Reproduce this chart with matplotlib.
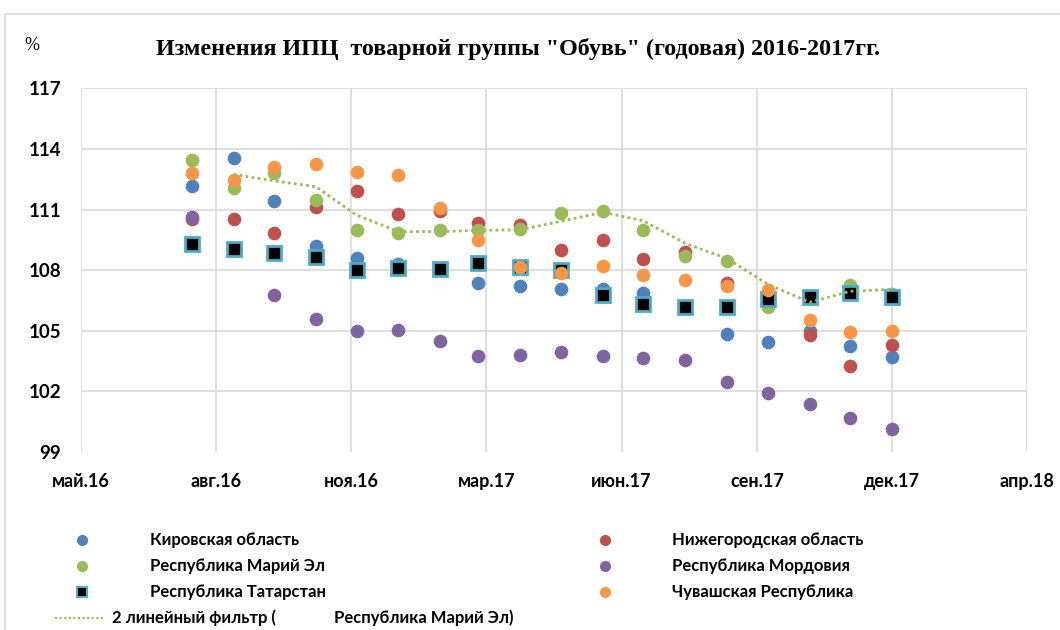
import matplotlib.pyplot as plt
import matplotlib.dates as mdates
import numpy as np
import pandas as pd
from datetime import datetime, timedelta

# monthly points (month ends), Jul 2016 - Dec 2017
months = pd.date_range('2016-07-31', periods=18, freq='ME')

nan = np.nan
kirov = [112.15, 113.53, 111.44, 109.21, 108.58, 108.3, nan, 107.35, 107.21,
         107.07, 107.05, 106.89, nan, 104.84, 104.43, 105.0, 104.24, 103.71]
nizhny = [110.55, 110.54, 109.82, 111.14, 111.91, 110.76, 110.92, 110.31, 110.23,
          108.99, 109.49, 108.53, 108.91, 107.34, nan, 104.81, 103.24, 104.32]
mari = [113.43, 112.05, 112.79, 111.47, 109.97, 109.85, 109.97, 109.97, 110.02,
        110.81, 110.92, 109.97, 108.69, 108.45, 106.17, 106.65, 107.26, 106.84]
mordovia = [110.64, nan, 106.77, 105.58, 104.99, 105.04, 104.51, 103.74, 103.79,
            103.96, 103.76, 103.66, 103.55, 102.44, 101.94, 101.36, 100.68, 100.13]
tatarstan = [109.3, 109.07, 108.83, 108.63, 108.03, 108.13, 108.07, 108.36, 108.17,
             108.0, 106.76, 106.33, 106.17, 106.17, 106.56, 106.69, 106.85, 106.69]
chuvash = [112.81, 112.46, 113.12, 113.24, 112.87, 112.71, 111.1, 109.49, 108.17,
           107.87, 108.2, 107.74, 107.5, 107.21, 107.0, 105.51, 104.94, 104.97]

names = ['Кировская область', 'Нижегородская область', 'Республика Марий Эл',
         'Республика Мордовия', 'Республика Татарстан', 'Чувашская Республика']
colors = ['#4F81BD', '#C0504D', '#9BBB59', '#8064A2', '#000000', '#F79646']
ru_months = ['янв', 'фев', 'мар', 'апр', 'май', 'июн',
             'июл', 'авг', 'сен', 'окт', 'ноя', 'дек']
yticks = [99, 102, 105, 108, 111, 114, 117]

plt.rcParams['font.family'] = ['Lato', 'DejaVu Sans']

W, H = 1060, 630
fig = plt.figure(figsize=(10.6, 6.3), dpi=100)

# background layer in pixel coords for border and legend
bg = fig.add_axes([0, 0, 1, 1], zorder=0)
bg.set_xlim(0, W)
bg.set_ylim(H, 0)
bg.axis('off')
bg.plot([5, 5, W], [H, 14, 14], color='#D9D9D9', lw=1.2)

ax = fig.add_axes([80.7 / W, 1 - 452 / H, (1027.3 - 80.7) / W, (452 - 88.3) / H], zorder=1)
ax.patch.set_alpha(0)

series = [kirov, nizhny, mari, mordovia, tatarstan, chuvash]
for i, (vals, c) in enumerate(zip(series, colors)):
    if i == 4:
        ax.plot(months, vals, 's', ms=10.5, mfc='black', mec='#4BACC6', mew=2, zorder=3 + i)
    else:
        ax.plot(months, vals, 'o', ms=8.8, color=c, mec=c, zorder=3 + i)

# 2-period moving average of Marii El
ma = pd.Series(mari, index=months).rolling(2).mean()
ax.plot(months, ma.values, color='#9BBB59', lw=2, linestyle=(0, (1, 1.2)), zorder=20)

start = datetime(2016, 5, 10)
xt = [start + timedelta(days=100 * k) for k in range(8)]
ax.set_xlim(mdates.date2num(xt[0]), mdates.date2num(xt[-1]))
ax.set_xticks(mdates.date2num(xt))
ax.set_xticklabels([f"{ru_months[t.month - 1]}.{t:%y}" for t in xt],
                   fontsize=13, fontweight='bold')
ax.set_ylim(99, 117)
ax.set_yticks(yticks)
ax.set_yticklabels([str(v) for v in yticks], fontsize=13.5, fontweight='bold')
ax.tick_params(axis='both', length=0)
ax.tick_params(axis='y', pad=14)
ax.tick_params(axis='x', pad=15)
for s in ax.spines.values():
    s.set_visible(False)
ax.grid(True, color='#D9D9D9', lw=1.2)
ax.set_axisbelow(True)
fig.canvas.draw()
ax.get_ygridlines()[0].set_visible(False)

fig.text(518 / W, 1 - 49 / H, 'Изменения ИПЦ  товарной группы "Обувь" (годовая) 2016-2017гг.',
         ha='center', va='center', family='Liberation Serif', fontweight='bold', fontsize=17.3)
fig.text(32 / W, 1 - 45 / H, '%', ha='center', va='center',
         family='Liberation Serif', fontsize=13)

# legend
rows = [540, 566, 592]
cols = [(82, 150), (605, 672)]
for k, (name, c) in enumerate(zip(names, colors)):
    mx, tx = cols[k % 2]
    y = rows[k // 2]
    if k == 4:
        bg.plot([mx], [y], 's', ms=7, mfc='black', mec='#4BACC6', mew=1.5)
    else:
        bg.plot([mx], [y], 'o', ms=7, color=c)
    bg.text(tx, y, name, va='center', ha='left', fontsize=12, fontweight='bold')
bg.plot([55, 103], [618, 618], color='#9BBB59', lw=1.5, linestyle=(0, (1, 1.2)))
bg.text(112, 618, '2 линейный фильтр (', va='center', ha='left', fontsize=12, fontweight='bold')
bg.text(334, 618, 'Республика Марий Эл)', va='center', ha='left', fontsize=12, fontweight='bold')

fig.savefig('out.png', dpi=100)
